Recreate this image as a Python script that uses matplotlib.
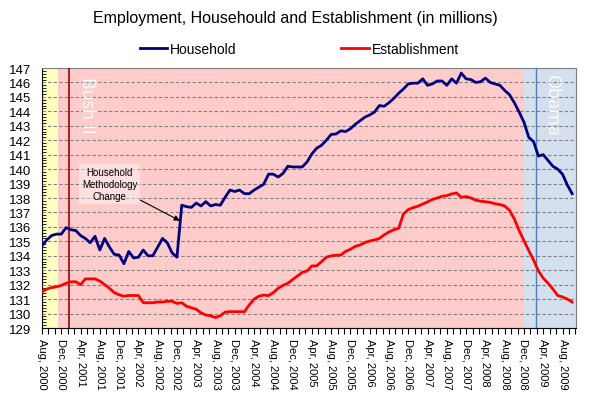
import numpy as np
import matplotlib
matplotlib.use("Agg")
import matplotlib.pyplot as plt

plt.rcParams['font.family'] = ['Liberation Sans', 'DejaVu Sans']

# Monthly levels, Aug 2000 .. Oct 2009 (millions)
household = [
    134.7, 135.1, 135.4, 135.5, 135.5, 135.95, 135.8, 135.75, 135.4, 135.2,
    134.9, 135.35, 134.4, 135.2, 134.6, 134.1, 134.05, 133.45, 134.3, 133.85,
    133.9, 134.4, 134.0, 134.0, 134.6, 135.2, 134.9, 134.2, 133.9, 137.5,
    137.4, 137.35, 137.65, 137.45, 137.75, 137.45, 137.55, 137.5, 138.05, 138.55,
    138.45, 138.55, 138.3, 138.3, 138.55, 138.75, 138.95, 139.65, 139.65, 139.45,
    139.7, 140.2, 140.15, 140.15, 140.15, 140.5, 141.05, 141.45, 141.65, 142.0,
    142.4, 142.43, 142.65, 142.6, 142.8, 143.1, 143.35, 143.6, 143.75, 143.95,
    144.4, 144.35, 144.6, 144.9, 145.25, 145.55, 145.9, 145.95, 145.95, 146.25,
    145.8, 145.9, 146.1, 146.1, 145.8, 146.25, 145.95, 146.65, 146.25, 146.2,
    146.0, 146.05, 146.3, 146.0, 145.9, 145.8, 145.45, 145.15, 144.6, 143.95,
    143.25, 142.2, 141.9, 140.9, 141.0, 140.6, 140.2, 140.0, 139.65, 138.9,
    138.3,
]
establishment = [
    131.5, 131.7, 131.8, 131.85, 131.95, 132.1, 132.2, 132.2, 132.0, 132.4,
    132.4, 132.4, 132.25, 132.0, 131.75, 131.45, 131.3, 131.2, 131.25, 131.25,
    131.25, 130.75, 130.75, 130.75, 130.8, 130.8, 130.85, 130.85, 130.7, 130.75,
    130.5, 130.4, 130.3, 130.05, 129.9, 129.85, 129.72, 129.85, 130.1, 130.13,
    130.13, 130.13, 130.13, 130.6, 131.0, 131.2, 131.28, 131.24, 131.45, 131.75,
    131.95, 132.1, 132.35, 132.6, 132.85, 132.95, 133.3, 133.3, 133.6, 133.9,
    134.0, 134.03, 134.06, 134.3, 134.45, 134.65, 134.75, 134.92, 135.02, 135.1,
    135.2, 135.45, 135.65, 135.8, 135.9, 136.9, 137.2, 137.33, 137.43, 137.58,
    137.73, 137.9, 138.0, 138.12, 138.17, 138.28, 138.35, 138.05, 138.1, 138.0,
    137.85, 137.78, 137.74, 137.7, 137.6, 137.55, 137.45, 137.15, 136.55, 135.75,
    135.05, 134.35, 133.7, 132.95, 132.45, 132.1, 131.7, 131.25, 131.15, 131.0,
    130.8,
]
tick_labels = [
    "Aug, 2000", "Dec, 2000", "Apr, 2001", "Aug, 2001", "Dec, 2001", "Apr, 2002",
    "Aug, 2002", "Dec, 2002", "Apr, 2003", "Aug, 2003", "Dec, 2003", "Apr, 2004",
    "Aug, 2004", "Dec, 2004", "Apr, 2005", "Aug, 2005", "Dec, 2005", "Apr, 2006",
    "Aug, 2006", "Dec, 2006", "Apr, 2007", "Aug, 2007", "Dec, 2007", "Apr, 2008",
    "Aug, 2008", "Dec, 2008", "Apr, 2009", "Aug, 2009",
]

months = np.arange(len(household))

fig = plt.figure(figsize=(5.9, 4.1), dpi=100)
ax = fig.add_axes([42/590, 1 - 329/410, (576 - 42)/590, (329 - 69)/410])

# background eras
ax.axvspan(0, 3.4, color='#FFFFC0', lw=0)
ax.axvspan(3.4, 100.05, color='#FFCCCC', lw=0)
ax.axvspan(100.05, 112, color='#D5E0EE', lw=0)

# inauguration lines
ax.axvline(5.5, color='#A00000', lw=1.2, zorder=2.6)
ax.axvline(102.5, color='#4F7FB8', lw=1.0, zorder=2.6)

ax.plot(months, household, color='#000080', lw=2, zorder=3, label='Household')
ax.plot(months, establishment, color='#FF0000', lw=2, zorder=3, label='Establishment')

ax.set_xlim(0, 110.8)
ax.set_ylim(129, 147)
ax.set_yticks(range(129, 148))
ax.set_yticks(np.arange(129, 147.01, 0.2), minor=True)
ax.set_xticks(range(0, 111, 4))
ax.set_xticklabels(tick_labels, rotation=-90, fontsize=8)
ax.set_xticks(np.arange(0, 111, 4/3), minor=True)
ax.tick_params(axis='y', labelsize=9.5, length=0, pad=8)
ax.tick_params(axis='y', which='minor', direction='in', length=3, width=0.6)
ax.tick_params(axis='x', which='both', direction='out', length=4, width=0.8)

ax.set_axisbelow(False)
ax.yaxis.grid(True, color='#808080', lw=0.8, ls=(0, (3, 2)))
ax.xaxis.grid(False)

for side in ['top', 'right']:
    ax.spines[side].set_color('#808080')
ax.spines['left'].set_color('black')
ax.spines['bottom'].set_color('black')

ax.text(9.3, 144.5, 'Bush II', rotation=-90, color='white', fontsize=13,
        ha='center', va='center', family='Open Sans')
ax.text(105.7, 144.45, 'Obama', rotation=-90, color='white', fontsize=13,
        ha='center', va='center', family='Open Sans')

ax.annotate('Household\nMethodology\nChange', xy=(28.6, 136.43), xytext=(14, 138.97),
            ha='center', va='center', fontsize=7, zorder=4,
            bbox=dict(boxstyle='square,pad=0.3', fc='white', ec='none', alpha=0.4),
            arrowprops=dict(arrowstyle='-|>', color='black', lw=0.8,
                            shrinkA=0, shrinkB=0, mutation_scale=8))

fig.text(0.5, 1 - 18/410, 'Employment, Househould and Establishment (in millions)',
         ha='center', va='center', fontsize=11.5)
fig.legend(loc='center', bbox_to_anchor=(0.507, 1 - 50/410), ncol=2, frameon=False,
           fontsize=10, handlelength=2.0, columnspacing=7.5, handletextpad=0.2)

fig.savefig('out.png', dpi=100)
